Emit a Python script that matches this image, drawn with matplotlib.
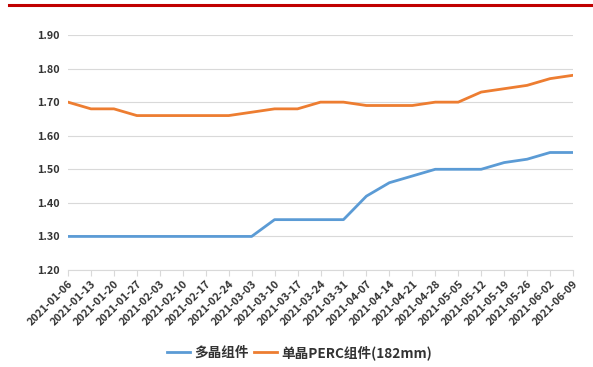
import matplotlib.pyplot as plt
from matplotlib.lines import Line2D

plt.rcParams['font.family'] = ['Noto Sans CJK SC', 'DejaVu Sans']

dates = ['2021-01-06', '2021-01-13', '2021-01-20', '2021-01-27', '2021-02-03',
         '2021-02-10', '2021-02-17', '2021-02-24', '2021-03-03', '2021-03-10',
         '2021-03-17', '2021-03-24', '2021-03-31', '2021-04-07', '2021-04-14',
         '2021-04-21', '2021-04-28', '2021-05-05', '2021-05-12', '2021-05-19',
         '2021-05-26', '2021-06-02', '2021-06-09']
poly = [1.30, 1.30, 1.30, 1.30, 1.30, 1.30, 1.30, 1.30, 1.30, 1.35,
        1.35, 1.35, 1.35, 1.42, 1.46, 1.48, 1.50, 1.50, 1.50, 1.52,
        1.53, 1.55, 1.55]
perc = [1.70, 1.68, 1.68, 1.66, 1.66, 1.66, 1.66, 1.66, 1.67, 1.68,
        1.68, 1.70, 1.70, 1.69, 1.69, 1.69, 1.70, 1.70, 1.73, 1.74,
        1.75, 1.77, 1.78]
yticks = [1.20, 1.30, 1.40, 1.50, 1.60, 1.70, 1.80, 1.90]

fig = plt.figure(figsize=(5.93, 3.67), dpi=100)
# red rule across the top
fig.add_artist(Line2D([0.015, 1.0], [0.987, 0.987], color='#C00000', lw=2.2))

ax = fig.add_axes([68 / 593, 1 - 270 / 367, 505 / 593, 235 / 367])
x = list(range(len(dates)))
ax.plot(x, poly, color='#5B9BD5', lw=2, label='多晶组件')
ax.plot(x, perc, color='#ED7D31', lw=2, label='单晶PERC组件(182mm)')

ax.set_xlim(0, len(dates) - 1)
ax.set_ylim(1.20, 1.90)
ax.set_yticks(yticks)
ax.set_yticklabels([f'{v:.2f}' for v in yticks], fontsize=7.8, fontweight='bold', color='#333333')
ax.set_xticks(x)
ax.set_xticklabels(dates, rotation=45, ha='right', rotation_mode='anchor',
                   fontsize=7.8, fontweight='bold', color='#333333')
ax.tick_params(axis='y', length=0, pad=6)
ax.tick_params(axis='x', length=4, color='#D9D9D9', pad=2)
ax.grid(axis='y', color='#D9D9D9', lw=0.8)
ax.set_axisbelow(True)
for s in ['top', 'right', 'left']:
    ax.spines[s].set_visible(False)
ax.spines['bottom'].set_color('#D9D9D9')

leg = fig.legend(loc='center', bbox_to_anchor=(0.505, 0.04), ncol=2, frameon=False,
                 prop={'size': 9.8, 'weight': 'bold'}, handlelength=1.7,
                 columnspacing=0.4, handletextpad=0.3)
for t in leg.get_texts():
    t.set_color('#333333')

fig.savefig('out.png', dpi=100)
